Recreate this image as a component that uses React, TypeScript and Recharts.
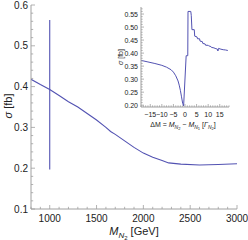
import { LineChart, Line, XAxis, YAxis } from "recharts";

// main curve: sigma vs M_N2
const massGeV = [800, 900, 1000, 1100, 1200, 1300, 1400, 1500, 1600, 1650, 1700, 1800, 1900, 2000, 2100, 2200, 2270, 2400, 2600, 2800, 3000];
const sigmaFb = [0.418, 0.405, 0.393, 0.378, 0.363, 0.35, 0.334, 0.318, 0.3, 0.29, 0.283, 0.267, 0.251, 0.237, 0.227, 0.219, 0.213, 0.21, 0.208, 0.209, 0.211];

// vertical scan at M_N2 = 1000 (range of the inset)
const scanMass = [1000, 1000];
const scanSigma = [0.197, 0.563];

// inset: sigma vs delta M in units of Gamma_N2
const deltaM = [-19, -16, -13, -10, -8, -6, -5, -4, -3, -2.5, -2, -1.5, -1, -0.6, 0.5, 1.2, 1.3, 2.5, 2.7, 3.0, 4.0, 4.2, 5.2, 5.4, 6.3, 6.5, 7.5, 7.7, 8.7, 8.9, 10, 10.2, 11.2, 11.4, 12.5, 13, 14, 14.2, 14.5, 15.5, 16.5, 17.5, 18.5];
const sigmaInset = [0.372, 0.366, 0.36, 0.353, 0.346, 0.336, 0.327, 0.313, 0.293, 0.277, 0.257, 0.232, 0.207, 0.197, 0.39, 0.39, 0.56, 0.56, 0.545, 0.49, 0.49, 0.465, 0.462, 0.455, 0.455, 0.446, 0.444, 0.437, 0.435, 0.43, 0.43, 0.428, 0.425, 0.422, 0.42, 0.418, 0.415, 0.408, 0.418, 0.415, 0.413, 0.412, 0.41];

const mainXMajor = [1000, 1500, 2000, 2500, 3000];
const mainYMajor = [0.1, 0.2, 0.3, 0.4, 0.5, 0.6];
const insetXMajor = [-15, -10, -5, 0, 5, 10, 15];
const insetYMajor = [0.2, 0.25, 0.3, 0.35, 0.4, 0.45, 0.5, 0.55];

const steps = (from: number, to: number, step: number) => {
  const out: number[] = [];
  for (let v = from; v <= to + step / 2; v += step) out.push(Math.round(v * 1000) / 1000);
  return out;
};

const mainXTicks = steps(800, 3000, 100);
const mainYTicks = steps(0.1, 0.6, 0.02);
const insetXTicks = steps(-19, 19, 1);
const insetYTicks = steps(0.2, 0.57, 0.01);

const mainRows = massGeV.map((m, i) => ({ m, s: sigmaFb[i] }));
const scanRows = scanMass.map((m, i) => ({ m, s: scanSigma[i] }));
const insetRows = deltaM.map((d, i) => ({ d, s: sigmaInset[i] }));

const LINE = "#5252b2";
const FRAME = "#a0a0a0";
const TEXT = "#222";
const FONT = "'Liberation Sans', Arial, sans-serif";

type Side = "bottom" | "top" | "left" | "right";

function makeTick(side: Side, majors: number[], len: number, fmt: ((v: number) => string) | null, fs: number) {
  return (props: any) => {
    const { x, y, payload } = props;
    const v = payload.value as number;
    const major = majors.some((m) => Math.abs(m - v) < 1e-6);
    const L = major ? len : len * 0.55;
    let line;
    if (side === "bottom") line = <line x1={x} y1={y} x2={x} y2={y - L} />;
    else if (side === "top") line = <line x1={x} y1={y} x2={x} y2={y + L} />;
    else if (side === "left") line = <line x1={x} y1={y} x2={x + L} y2={y} />;
    else line = <line x1={x} y1={y} x2={x - L} y2={y} />;
    return (
      <g>
        <g stroke={FRAME} strokeWidth={0.8}>{line}</g>
        {major && fmt && side === "bottom" && (
          <text x={x} y={y + fs + 3} textAnchor="middle" fontSize={fs} fill={TEXT} fontFamily={FONT}>
            {fmt(v)}
          </text>
        )}
        {major && fmt && side === "left" && (
          <text x={x - 3} y={y + fs * 0.36} textAnchor="end" fontSize={fs} fill={TEXT} fontFamily={FONT}>
            {fmt(v)}
          </text>
        )}
      </g>
    );
  };
}

const minus = (v: number) => (v < 0 ? "\u2212" + Math.abs(v) : String(v));

export default function App() {
  return (
    <div style={{ position: "absolute", left: 0, top: 0, width: 248, height: 240, background: "#fff" }}>
      <LineChart width={248} height={240} margin={{ top: 5, right: 11, bottom: 0, left: 0 }}>
        <XAxis
          dataKey="m"
          type="number"
          domain={[800, 3000]}
          ticks={mainXTicks}
          interval={0}
          height={31}
          tickSize={0}
          tickMargin={0}
          tickLine={false}
          axisLine={{ stroke: FRAME }}
          tick={makeTick("bottom", mainXMajor, 4, (v) => String(v), 10)}
          allowDataOverflow
        />
        <XAxis
          xAxisId="top"
          orientation="top"
          dataKey="m"
          type="number"
          domain={[800, 3000]}
          ticks={mainXTicks}
          interval={0}
          height={0}
          tickSize={0}
          tickMargin={0}
          tickLine={false}
          axisLine={{ stroke: FRAME }}
          tick={makeTick("top", mainXMajor, 4, null, 10)}
        />
        <YAxis
          type="number"
          domain={[0.1, 0.6]}
          ticks={mainYTicks}
          interval={0}
          width={31}
          tickSize={0}
          tickMargin={0}
          tickLine={false}
          axisLine={{ stroke: FRAME }}
          tick={makeTick("left", mainYMajor, 4, (v) => v.toFixed(1), 10)}
          allowDataOverflow
        />
        <YAxis
          yAxisId="right"
          orientation="right"
          type="number"
          domain={[0.1, 0.6]}
          ticks={mainYTicks}
          interval={0}
          width={0}
          tickSize={0}
          tickMargin={0}
          tickLine={false}
          axisLine={{ stroke: FRAME }}
          tick={makeTick("right", mainYMajor, 4, null, 10)}
        />
        <Line data={mainRows} dataKey="s" stroke={LINE} strokeWidth={1.1} dot={false} isAnimationActive={false} />
        <Line data={scanRows} dataKey="s" stroke={LINE} strokeWidth={1.1} dot={false} isAnimationActive={false} />
      </LineChart>

      <div style={{ position: "absolute", left: 100, top: 0 }}>
        <LineChart width={140} height={130} margin={{ top: 7, right: 11, bottom: 0, left: 0 }}>
          <XAxis
            dataKey="d"
            type="number"
            domain={[-19, 19]}
            ticks={insetXTicks}
            interval={0}
            height={23}
            tickSize={0}
            tickMargin={0}
            tickLine={false}
            axisLine={{ stroke: FRAME }}
            tick={makeTick("bottom", insetXMajor, 3, minus, 7)}
          />
          <XAxis
            xAxisId="top"
            orientation="top"
            dataKey="d"
            type="number"
            domain={[-19, 19]}
            ticks={insetXTicks}
            interval={0}
            height={0}
            tickSize={0}
            tickMargin={0}
            tickLine={false}
            axisLine={{ stroke: FRAME }}
            tick={makeTick("top", insetXMajor, 3, null, 7)}
          />
          <YAxis
            type="number"
            domain={[0.193, 0.577]}
            ticks={insetYTicks}
            interval={0}
            width={41}
            tickSize={0}
            tickMargin={0}
            tickLine={false}
            axisLine={{ stroke: FRAME }}
            tick={makeTick("left", insetYMajor, 3, (v) => v.toFixed(2), 7)}
            allowDataOverflow
          />
          <YAxis
            yAxisId="right"
            orientation="right"
            type="number"
            domain={[0.193, 0.577]}
            ticks={insetYTicks}
            interval={0}
            width={0}
            tickSize={0}
            tickMargin={0}
            tickLine={false}
            axisLine={{ stroke: FRAME }}
            tick={makeTick("right", insetYMajor, 3, null, 7)}
          />
          <Line data={insetRows} dataKey="s" stroke={LINE} strokeWidth={1} dot={false} isAnimationActive={false} />
        </LineChart>
      </div>

      <svg width={248} height={240} style={{ position: "absolute", left: 0, top: 0, pointerEvents: "none" }} fontFamily={FONT} fill={TEXT}>
        <text transform="translate(12,106) rotate(-90)" textAnchor="middle" fontSize={11}>
          <tspan fontStyle="italic">σ</tspan> [fb]
        </text>
        <text x={134} y={235} textAnchor="middle" fontSize={11}>
          <tspan fontStyle="italic">M</tspan>
          <tspan fontStyle="italic" fontSize={8} dy={3}>N</tspan>
          <tspan fontSize={6} dy={2}>2</tspan>
          <tspan dy={-5}> [GeV]</tspan>
        </text>
        <text transform="translate(123,57) rotate(-90)" textAnchor="middle" fontSize={7}>
          <tspan fontStyle="italic">σ</tspan> [fb]
        </text>
        <text x={183} y={127} textAnchor="middle" fontSize={7}>
          <tspan>ΔM = </tspan>
          <tspan fontStyle="italic">M</tspan>
          <tspan fontStyle="italic" fontSize={5} dy={2}>N</tspan>
          <tspan fontSize={4} dy={1}>2</tspan>
          <tspan dy={-3}> − </tspan>
          <tspan fontStyle="italic">M</tspan>
          <tspan fontStyle="italic" fontSize={5} dy={2}>N</tspan>
          <tspan fontSize={4} dy={1}>1</tspan>
          <tspan dy={-3}> [</tspan>
          <tspan fontStyle="italic">Γ</tspan>
          <tspan fontStyle="italic" fontSize={5} dy={2}>N</tspan>
          <tspan fontSize={4} dy={1}>2</tspan>
          <tspan dy={-3}>]</tspan>
        </text>
      </svg>
    </div>
  );
}
